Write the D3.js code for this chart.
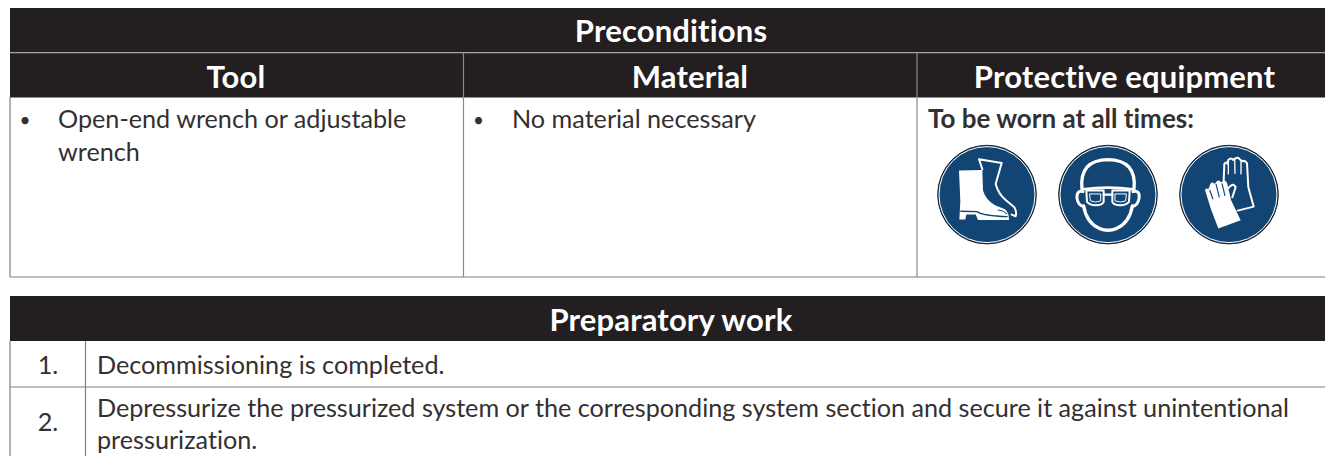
<!DOCTYPE html>
<html>
<head>
<meta charset="utf-8">
<script src="https://cdn.jsdelivr.net/npm/d3@7"></script>
<style>
    html, body { margin: 0; padding: 0; background: #fff; overflow: hidden; }
    svg { display: block; }
    text { font-family: Lato, sans-serif; fill: #231f20; font-variant-ligatures: none; }
    .head { fill: #fff; font-weight: 700; font-size: 31px; letter-spacing: 0.15px; text-anchor: middle; }
    .body { font-size: 25.2px; fill: #333031; }
</style>
</head>
<body>
<svg id="sheet" width="1325" height="456"></svg>
<script>
const preconditionsTitle = "Preconditions";
const columnHeaders = ["Tool", "Material", "Protective equipment"];
const toolLines = ["Open-end wrench or adjustable", "wrench"];
const materialLines = ["No material necessary"];
const protectiveLabel = "To be worn at all times:";
const preparatoryTitle = "Preparatory work";
const stepNumbers = ["1.", "2."];
const stepLines = [
    ["Decommissioning is completed."],
    ["Depressurize the pressurized system or the corresponding system section and secure it against unintentional", "pressurization."]
];

const BLACK = "#231f20";
const RULE = "#7f7f7f";
const BLUE = "#134574";

const svg = d3.select("#sheet");
const left = 10, right = 1332;
const columnX = d3.scaleOrdinal().domain(columnHeaders).range([10, 463.5, 917]);
const columnMid = d3.scaleOrdinal().domain(columnHeaders).range([236, 690, 1124.5]);

function rect(x, y, w, h, fill) {
    svg.append("rect").attr("x", x).attr("y", y).attr("width", w).attr("height", h).attr("fill", fill);
}

function rule(x1, y1, x2, y2, color) {
    svg.append("line")
        .attr("x1", x1).attr("y1", y1).attr("x2", x2).attr("y2", y2)
        .attr("stroke", color || RULE).attr("stroke-width", 1.2);
}

function heading(label, x, y) {
    svg.append("text").attr("class", "head").attr("x", x).attr("y", y).text(label);
}

function bodyLines(lines, x, y, gap) {
    return svg.selectAll(null).data(lines).enter().append("text")
        .attr("class", "body")
        .attr("x", x)
        .attr("y", (d, i) => y + i * gap)
        .text(d => d);
}

function bullet(x, y) {
    svg.append("text").attr("class", "body").attr("x", x).attr("y", y)
        .style("font-size", "19px").text("•");
}

// preconditions table
rect(left, 8, right - left, 89.5, BLACK);
rule(left, 52.7, right, 52.7, "#a5a3a3");
heading(preconditionsTitle, 671, 41.5);

columnHeaders.forEach((h, i) => {
    heading(h, columnMid(h), 88);
    if (i > 0) rule(columnX(h), 53, columnX(h), 277, "#8a8a8a");
});
rule(10, 97, 10, 277);
rule(10, 277, right, 277);

bullet(19.5, 127);
bodyLines(toolLines, 58, 128, 32.5);
bullet(473, 127);
bodyLines(materialLines, 512, 128, 0);

svg.append("text").attr("class", "body")
    .attr("x", 928).attr("y", 128)
    .attr("font-weight", 700)
    .style("font-size", "26px")
    .text(protectiveLabel);

// safety signs, drawn in the 3x crop coords then scaled down
const signs = [
    { cx: 987, ox: 202, draw: drawBoots },
    { cx: 1108, ox: 565, draw: drawGoggles },
    { cx: 1229, ox: 928, draw: drawGloves }
];
signs.forEach(s => {
    const g = svg.append("g").attr("transform", `translate(${s.cx},194.6) scale(${1 / 3}) translate(${-s.ox},-284)`);
    g.append("circle").attr("cx", s.ox).attr("cy", 284).attr("r", 148)
        .attr("fill", BLUE).attr("stroke", "#231f20").attr("stroke-width", 3);
    g.append("circle").attr("cx", s.ox).attr("cy", 284).attr("r", 144)
        .attr("fill", "none").attr("stroke", "#fff").attr("stroke-width", 3);
    s.draw(g);
});

function whiteLine(g, d, w) {
    g.append("path").attr("d", d).attr("fill", "none").attr("stroke", "#fff")
        .attr("stroke-width", w).attr("stroke-linejoin", "round").attr("stroke-linecap", "round");
}

function drawBoots(g) {
    whiteLine(g, "M188,208 L178,178 L246,189 L228,252 Q236,282 258,300 L284,322 Q292,336 288,349 L276,344", 6);
    g.append("path").attr("fill", "#fff")
        .attr("d", "M118,212 L188,210 L190,272 Q198,300 226,316 L256,328 Q268,338 268,360 L175,360 L168,344 L140,344 L137,359 L119,359 L122,305 Z");
    g.append("path").attr("fill", "none").attr("stroke", BLUE).attr("stroke-width", 4)
        .attr("d", "M122,334 L172,335 Q190,348 264,350");
    g.append("path").attr("fill", "none").attr("stroke", BLUE).attr("stroke-width", 3)
        .attr("d", "M234,330 Q250,330 262,342");
}

function drawGoggles(g) {
    whiteLine(g, "M487,268 Q478,180 565,179 Q652,180 643,268", 10);
    whiteLine(g, "M492,318 Q500,368 540,386 Q565,396 590,386 Q630,368 638,318", 10);
    whiteLine(g, "M490,275 Q470,270 472,296 Q476,318 492,320", 9);
    whiteLine(g, "M640,275 Q662,270 658,296 Q654,318 638,320", 9);
    whiteLine(g, "M490,268 Q565,258 640,268", 8);
    whiteLine(g, "M500,272 L552,272 L552,306 Q548,316 528,316 Q510,316 502,306 Z", 6);
    whiteLine(g, "M578,272 L630,272 L628,306 Q620,316 602,316 Q582,316 578,306 Z", 6);
    whiteLine(g, "M511,282 L543,282 L543,303 Q528,310 513,303 Z", 3);
    whiteLine(g, "M587,282 L620,282 L618,303 Q602,310 587,303 Z", 3);
    whiteLine(g, "M552,284 L578,284", 7);
}

function drawGloves(g) {
    // back glove, outline
    whiteLine(g, "M912,242 L914,192 Q920,184 924,192 L926,180 Q934,172 940,180 L946,176 Q956,170 960,178 L968,184 Q976,180 982,190 L986,262 L1002,320 L954,332", 6);
    whiteLine(g, "M926,192 L926,222 M945,178 L946,220 M964,184 L964,222", 4);
    whiteLine(g, "M926,265 Q940,245 948,262 L938,292", 6);
    // front glove, solid
    g.append("path").attr("fill", "#fff")
        .attr("d", "M856,270 Q860,262 866,268 L872,252 Q878,244 885,252 L892,243 Q900,238 904,248 L912,242 Q922,242 924,256 L934,300 L963,361 L896,386 L874,328 Z");
    g.append("path").attr("fill", "none").attr("stroke", BLUE).attr("stroke-width", 3.5)
        .attr("d", "M870,270 L880,298 M889,252 L899,292 M907,250 L916,288");
}

// preparatory work table
rect(left, 296, right - left, 45, BLACK);
heading(preparatoryTitle, 671, 331);

rule(10, 341, 10, 456);
rule(85.5, 341, 85.5, 456);
rule(10, 387, right, 387);

const stepRow = d3.scaleOrdinal().domain(stepNumbers).range([374, 431]);
stepNumbers.forEach(n => {
    svg.append("text").attr("class", "body").attr("text-anchor", "middle")
        .attr("x", 48).attr("y", stepRow(n)).text(n);
});
bodyLines(stepLines[0], 97, 374, 0);
// the long line has to end where the reference's does
bodyLines(stepLines[1], 97, 417, 32).filter((d, i) => i === 0)
    .attr("textLength", 1192).attr("lengthAdjust", "spacing");
</script>
</body>
</html>
